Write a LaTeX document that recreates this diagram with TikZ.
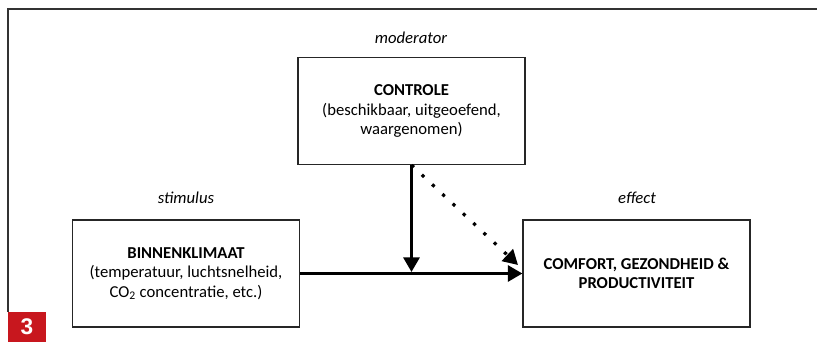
\documentclass[tikz,border=0pt]{standalone}
\usepackage{fontspec}
\setmainfont{Carlito}
\newfontfamily\badgefont{Liberation Sans}
\usetikzlibrary{arrows.meta}

\begin{document}
\begin{tikzpicture}
    [x=0.75pt,y=-0.75pt,
    box/.style={draw=black!85,line width=1.1pt,minimum width=170pt,minimum height=80pt,
        inner sep=0pt,align=center,font=\fontsize{12.5}{14.6}\selectfont},
    tag/.style={font=\fontsize{12.5}{14}\selectfont\itshape},
    link/.style={line width=2.4pt,-{Triangle[length=11pt,width=12pt]}}]
    \useasboundingbox (0,0) rectangle (817,342);
    \draw[black!80,line width=1.3pt] (817,9) -- (8,9) -- (8,312);
    \node[fill={rgb,255:red,200;green,23;blue,30},text=white,minimum width=28.5pt,
        minimum height=22.5pt,inner sep=0pt,font=\badgefont\bfseries\fontsize{17}{17}\selectfont]
        (badge) at (27,327) {3};
    \node[box] (ctrl) at (411.5,111) {\textbf{CONTROLE}\\(beschikbaar, uitgeoefend,\\waargenomen)};
    \node[box] (klimaat) at (186,273.5) {\textbf{BINNENKLIMAAT}\\(temperatuur, luchtsnelheid,\\CO\textsubscript{2} concentratie, etc.)};
    \node[box] (effect) at (636.5,273.5) {\textbf{COMFORT, GEZONDHEID \&}\\\textbf{PRODUCTIVITEIT}};
    \node[tag] (lbmod) at (411,38) {moderator};
    \node[tag] (lbstim) at (186,198) {stimulus};
    \node[tag] (lbeff) at (637,198) {effect};
    \coordinate (joint) at (411.5,272);
    \coordinate (dotend) at (518,265);
    \draw[link] (klimaat.east) -- (effect.west);
    \draw[link] (ctrl.south) -- (joint);
    \draw[link,dash pattern=on 2.4pt off 8.2pt] (ctrl.south) -- (dotend);
\end{tikzpicture}
\end{document}
